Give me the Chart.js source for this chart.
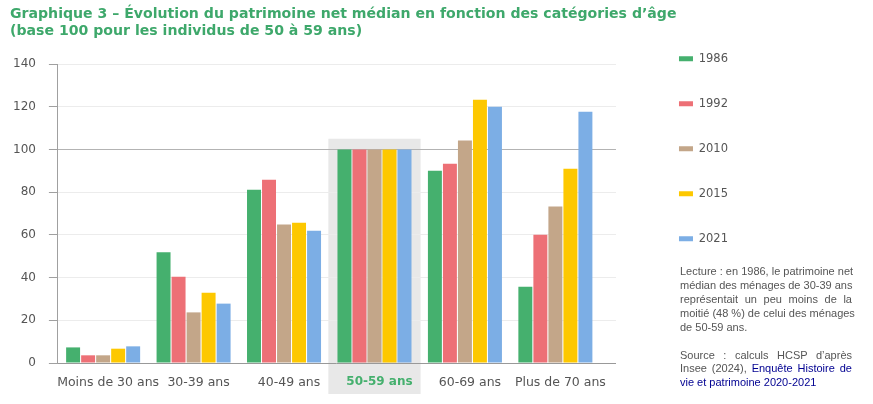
<!DOCTYPE html>
<html lang="fr">
<head>
<meta charset="utf-8">
<script src="https://cdn.jsdelivr.net/npm/chart.js@4/dist/chart.umd.min.js"></script>
<style>
  html, body { margin:0; padding:0; background:#fff; }
  #wrap { position:relative; width:873px; height:404px; overflow:hidden; }
  #title { position:absolute; left:10px; top:5px; font-family:"DejaVu Sans", sans-serif; font-weight:700; font-size:14.1px; line-height:16.5px; color:#3ea86b; z-index:2; white-space:nowrap; }
  #cv { position:absolute; left:0; top:0; }
  #notes { position:absolute; left:680px; top:265px; width:172px; font-family:"Liberation Sans Narrow", "Liberation Sans", sans-serif; font-size:11px; line-height:13.9px; color:#555; z-index:2; }
  #notes .l { text-align:justify; text-align-last:justify; white-space:nowrap; }
  #notes .e { text-align:left; white-space:nowrap; }
  #notes .gap { height:14px; }
  #notes .lk { color:#000091; }
</style>
</head>
<body>
<div id="wrap">
  <div id="title">Graphique 3 – Évolution du patrimoine net médian en fonction des catégories d’âge<br>(base 100 pour les individus de 50 à 59 ans)</div>
  <canvas id="cv" width="873" height="404"></canvas>
  <div id="notes">
    <div class="l">Lecture : en 1986, le patrimoine net</div>
    <div class="l">médian des ménages de 30-39 ans</div>
    <div class="l">représentait un peu moins de la</div>
    <div class="l">moitié (48 %) de celui des ménages</div>
    <div class="e">de 50-59 ans.</div>
    <div class="gap"></div>
    <div class="l">Source : calculs HCSP d’après</div>
    <div class="l">Insee (2024), <span class="lk">Enquête Histoire de</span></div>
    <div class="e lk">vie et patrimoine 2020-2021</div>
  </div>
</div>
<script>
// ---- data ----
const categories = ['Moins de 30 ans', '30-39 ans', '40-49 ans', '50-59 ans', '60-69 ans', 'Plus de 70 ans'];
const years = ['1986', '1992', '2010', '2015', '2021'];
const v1986 = [7.3, 51.8, 81.1, 100, 90.0, 35.7];
const v1992 = [3.6, 40.4, 85.8, 100, 93.3, 60.1];
const v2010 = [3.6, 23.7, 64.9, 100, 104.2, 73.3];
const v2015 = [6.7, 32.9, 65.7, 100, 123.3, 91.0];
const v2021 = [7.8, 27.8, 61.9, 100, 120.0, 117.6];
const yTicks = [0, 20, 40, 60, 80, 100, 120, 140];
const highlightCategory = '50-59 ans';

// ---- styles ----
const seriesValues = [v1986, v1992, v2010, v2015, v2021];
const colors = ['#45b06e', '#ed7076', '#c3a689', '#fdc800', '#7caee5'];
const FONT = '"DejaVu Sans", sans-serif';
const hlIndex = categories.indexOf(highlightCategory);

const highlightPlugin = {
  id: 'highlight',
  beforeDraw(chart) {
    const x = chart.scales.x, y = chart.scales.y, ctx = chart.ctx;
    const l = x.getPixelForValue(hlIndex - 0.51), r = x.getPixelForValue(hlIndex + 0.51);
    const t = y.getPixelForValue(105);
    ctx.save();
    ctx.fillStyle = '#e8e8e8';
    ctx.fillRect(l, t, r - l, 394 - t);
    ctx.restore();
  }
};

new Chart(document.getElementById('cv'), {
  type: 'bar',
  data: {
    datasets: years.map((yr, k) => ({
      label: yr,
      data: categories.map((c, i) => ({ x: i, y: seriesValues[k][i] })),
      backgroundColor: colors[k],
      borderWidth: 0,
      categoryPercentage: 0.83,
      barPercentage: 0.93
    }))
  },
  options: {
    responsive: false,
    animation: false,
    layout: { padding: { left: 0, right: 135, top: 19.6, bottom: 2 } },
    plugins: {
      legend: {
        position: 'right',
        align: 'start',
        labels: { boxWidth: 14, boxHeight: 5, padding: 33.5, color: '#555', font: { family: FONT, size: 11.5 } }
      },
      tooltip: { enabled: false },
      title: { display: false }
    },
    scales: {
      x: {
        type: 'linear',
        offset: false,
        min: -0.5,
        max: 5.67,
        afterBuildTicks: (s) => { s.ticks = categories.map((c, i) => ({ value: i })); },
        grid: { display: false, drawTicks: false },
        border: { display: true, color: '#999', width: 1 },
        ticks: {
          padding: 12,
          labelOffset: 5,
          maxRotation: 0,
          autoSkip: false,
          callback: (v) => categories[v] ?? '',
          color: (ctx) => ctx.tick && ctx.tick.value === hlIndex ? '#45b06e' : '#555',
          font: (ctx) => (ctx.tick && ctx.tick.value === hlIndex)
            ? { family: FONT, size: 12, weight: 'bold' }
            : { family: FONT, size: 12.5, weight: 'normal' }
        }
      },
      xTop: {
        type: 'linear',
        position: 'top',
        display: true,
        grid: { display: false, drawTicks: false },
        border: { display: false },
        ticks: { display: false },
        afterFit: (s) => { s.height = 44.4; }
      },
      y: {
        min: 0,
        max: 140,
        afterBuildTicks: (s) => { s.ticks = yTicks.map(v => ({ value: v })); },
        grid: {
          color: (ctx) => ctx.tick && ctx.tick.value === 100 ? '#b3b3b3' : '#ececec',
          tickColor: '#a0a0a0',
          tickLength: 9,
          lineWidth: 1
        },
        border: { display: true, color: '#a0a0a0', width: 1 },
        ticks: { padding: 13, color: '#555', font: { family: FONT, size: 12 } }
      },
      yRight: {
        type: 'linear',
        position: 'right',
        display: true,
        grid: { display: false, drawTicks: false },
        border: { display: false },
        ticks: { display: false },
        afterFit: (s) => { s.width = 29.5; }
      }
    }
  },
  plugins: [highlightPlugin]
});
</script>
</body>
</html>
